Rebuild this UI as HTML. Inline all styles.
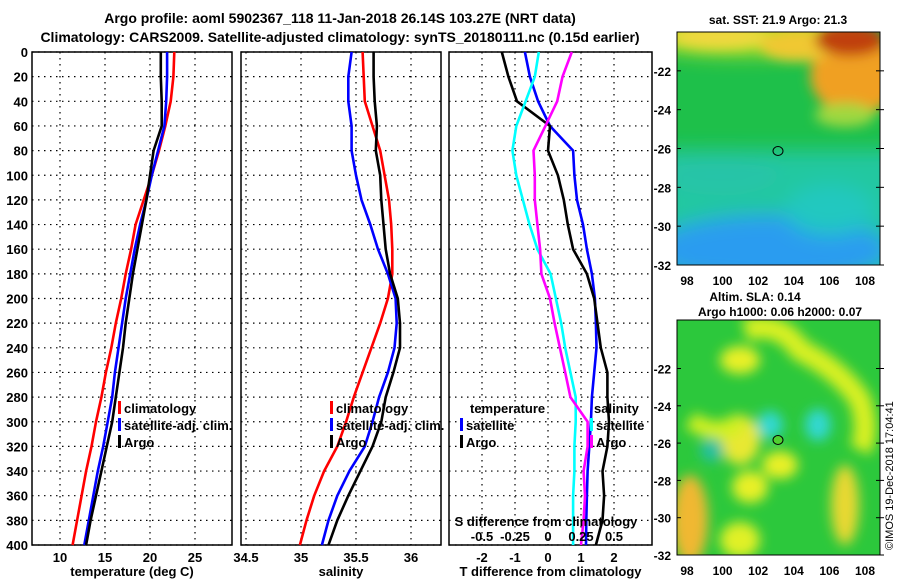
<!DOCTYPE html>
<html><head><meta charset="utf-8"><style>
body{margin:0;background:#fff;}
svg{display:block;font-family:"Liberation Sans",sans-serif;font-weight:bold;}
</style></head><body>
<svg id="chart" width="900" height="580" viewBox="0 0 900 580">
<defs>
<filter id="blur6" filterUnits="userSpaceOnUse" x="600" y="0" width="300" height="580"><feGaussianBlur stdDeviation="6"/></filter>
<filter id="blur10" filterUnits="userSpaceOnUse" x="600" y="0" width="300" height="580"><feGaussianBlur stdDeviation="10"/></filter>
<clipPath id="clipTop"><rect x="677" y="32" width="203" height="233"/></clipPath>
<clipPath id="clipBot"><rect x="677" y="320" width="203" height="235"/></clipPath>
</defs>
<text x="340" y="23" text-anchor="middle" font-size="14">Argo profile: aoml 5902367_118 11-Jan-2018 26.14S 103.27E (NRT data)</text>
<text x="340" y="42" text-anchor="middle" font-size="14">Climatology: CARS2009. Satellite-adjusted climatology: synTS_20180111.nc (0.15d earlier)</text>

<g id="p1"></g>
<g id="p2"></g>
<g id="p3"></g>

<text x="778" y="24" text-anchor="middle" font-size="12">sat. SST: 21.9 Argo: 21.3</text>
<g clip-path="url(#clipTop)">
<rect x="677" y="32" width="203" height="233" fill="#1ec04a"/>
<g filter="url(#blur10)">
<rect x="660" y="150" width="240" height="130" fill="#22c8a0"/>
<ellipse cx="770" cy="250" rx="120" ry="35" fill="#2a9cf0"/>
<ellipse cx="720" cy="175" rx="60" ry="20" fill="#28c4a8"/>
<ellipse cx="740" cy="30" rx="120" ry="25" fill="#b8e020"/>
<ellipse cx="830" cy="210" rx="45" ry="25" fill="#22c8c0"/>
</g>
<g filter="url(#blur6)">
<ellipse cx="720" cy="37" rx="50" ry="12" fill="#f0d840"/>
<ellipse cx="855" cy="75" rx="45" ry="40" fill="#f0a020"/>
<ellipse cx="800" cy="45" rx="40" ry="16" fill="#f0c830"/>
<ellipse cx="850" cy="40" rx="35" ry="16" fill="#c04010"/>
<ellipse cx="845" cy="115" rx="30" ry="12" fill="#a0d840"/>
</g>
</g>
<rect x="677" y="32" width="203" height="233" fill="none" stroke="#000"/>
<ellipse cx="778" cy="151" rx="5" ry="4.5" fill="none" stroke="#000"/>
<g id="m1" font-size="12"></g>

<text x="755" y="301" text-anchor="middle" font-size="12">Altim. SLA: 0.14</text>
<text x="780" y="316" text-anchor="middle" font-size="12">Argo h1000: 0.06 h2000: 0.07</text>
<g clip-path="url(#clipBot)">
<rect x="677" y="320" width="203" height="235" fill="#2cc83c"/>
<g filter="url(#blur6)">
<path d="M745 330 Q780 320 800 350 Q840 370 860 400 Q870 430 860 450" stroke="#d8f020" stroke-width="22" fill="none"/>
<ellipse cx="740" cy="360" rx="20" ry="14" fill="#e8f028"/>
<ellipse cx="740" cy="440" rx="20" ry="25" fill="#e8e830"/>
<path d="M690 420 Q720 440 740 420" stroke="#d0f020" stroke-width="18" fill="none"/>
<ellipse cx="780" cy="465" rx="18" ry="14" fill="#e8f028"/>
<ellipse cx="750" cy="487" rx="18" ry="16" fill="#e8f028"/>
<ellipse cx="690" cy="520" rx="18" ry="45" fill="#f0b830"/>
<ellipse cx="845" cy="505" rx="14" ry="40" fill="#e8d830"/>
<ellipse cx="740" cy="540" rx="20" ry="18" fill="#e0f028"/>
<ellipse cx="770" cy="425" rx="13" ry="14" fill="#30d8d0"/>
<ellipse cx="818" cy="425" rx="13" ry="16" fill="#30d8d0"/>
<ellipse cx="712" cy="450" rx="12" ry="12" fill="#28c0a0"/>
</g>
</g>
<rect x="677" y="320" width="203" height="235" fill="none" stroke="#000"/>
<ellipse cx="778" cy="440" rx="5" ry="4.5" fill="#50d030" stroke="#000"/>
<g id="m2" font-size="12"></g>
<text x="0" y="0" transform="translate(893,550) rotate(-90)" font-size="11" font-weight="normal">©IMOS 19-Dec-2018 17:04:41</text>
</svg>
<script>
const depths=[0,20,40,60,80,100,120,140,160,180,200,220,240,260,280,300,320,340,360,380,400];
const tempClim=[22.7,22.6,22.3,21.7,21.0,20.2,19.3,18.4,17.9,17.3,16.8,16.2,15.7,15.1,14.6,14.0,13.5,12.9,12.4,11.9,11.4];
const tempSat=[21.9,21.9,21.8,21.6,20.9,20.2,19.6,18.9,18.3,17.8,17.3,16.9,16.5,16.1,15.8,15.3,14.8,14.2,13.7,13.2,12.7];
const tempArgo=[21.2,21.2,21.3,21.3,20.4,20.0,19.6,19.1,18.6,18.1,17.7,17.3,17.0,16.6,16.2,15.8,15.2,14.6,14.0,13.4,12.9];
const salClim=[35.56,35.57,35.58,35.65,35.72,35.76,35.80,35.82,35.83,35.83,35.79,35.72,35.64,35.56,35.48,35.41,35.33,35.21,35.12,35.05,34.99];
const salSat=[35.46,35.43,35.43,35.46,35.46,35.50,35.55,35.63,35.70,35.79,35.86,35.87,35.85,35.79,35.71,35.65,35.58,35.44,35.33,35.25,35.19];
const salArgo=[35.66,35.66,35.67,35.69,35.68,35.72,35.73,35.75,35.77,35.81,35.88,35.90,35.90,35.84,35.77,35.73,35.65,35.54,35.43,35.33,35.25];
const tDiffSat=[-0.7,-0.55,-0.3,0.06,0.76,0.8,0.88,1.06,1.18,1.33,1.42,1.45,1.47,1.4,1.33,1.3,1.25,1.2,1.18,1.16,1.15];
const tDiffArgo=[-1.4,-1.2,-0.94,0.06,0.0,0.3,0.48,0.6,0.76,1.18,1.4,1.5,1.6,1.8,1.8,1.85,1.8,1.65,1.7,1.65,1.45];
const sDiffSat=[-0.07,-0.1,-0.17,-0.24,-0.27,-0.24,-0.19,-0.14,-0.08,0.02,0.06,0.1,0.13,0.17,0.21,0.21,0.2,0.2,0.19,0.19,0.19];
const sDiffArgo=[0.18,0.11,0.07,-0.02,-0.11,-0.1,-0.1,-0.08,-0.06,-0.05,0.015,0.05,0.09,0.13,0.17,0.3,0.3,0.27,0.28,0.27,0.25];
const depthTicks=[0,20,40,60,80,100,120,140,160,180,200,220,240,260,280,300,320,340,360,380,400];
const tempTicks=[10,15,20,25];
const salTicks=[34.5,35,35.5,36];
const tDiffTicks=[-2,-1,0,1,2];
const sDiffTickLabels=["-0.5","-0.25","0","0.25","0.5"];
const sstLon=[98,100,102,104,106,108], sstLat=[-22,-24,-26,-28,-30,-32];

const NS='http://www.w3.org/2000/svg';
const Y0=52,Y1=545;
const yD=d=>Y0+(d/400)*(Y1-Y0);
function mk(tag,attrs,parent,txt){const e=document.createElementNS(NS,tag);for(const k in attrs)e.setAttribute(k,attrs[k]);if(txt!==undefined)e.textContent=txt;parent.appendChild(e);return e;}

function panel(g,x0,x1,xs,ticks,labels,xlabel,showDepth){
  for(const d of depthTicks){
    const l=mk('line',{x1:x0,x2:x1,y1:yD(d),y2:yD(d),stroke:'#000','stroke-dasharray':'1.5,4.5','stroke-width':1.2},g);
    
    
    if(showDepth){const t=mk('text',{x:x0-4,y:yD(d)+5,'text-anchor':'end','font-size':13},g,String(d));
      
      }
  }
  ticks.forEach((v,i)=>{
    const x=xs(v);
    const l=mk('line',{x1:x,x2:x,y1:Y0,y2:Y1,stroke:'#000','stroke-dasharray':'1.5,4.5','stroke-width':1.2},g);
    
    
    const t=mk('text',{x:x,y:Y1+17,'text-anchor':'middle','font-size':13},g,labels[i]);
    
    
  });
  const r=mk('rect',{x:x0,y:Y0,width:x1-x0,height:Y1-Y0,fill:'none',stroke:'#000','stroke-width':1.5},g);
  
  
  const xl=mk('text',{x:(x0+x1)/2,y:576,'text-anchor':'middle','font-size':13},g,xlabel);
  
  
}
function series(g,vals,xs,color,name){
  const pts=vals.map((v,i)=>xs(v).toFixed(1)+','+yD(depths[i]).toFixed(1)).join(' ');
  const p=mk('polyline',{points:pts,fill:'none',stroke:color,'stroke-width':2.6,'stroke-linejoin':'round'},g);
  
  
}
function legend(g,x,y,items){
  items.forEach((it,i)=>{
    const yy=y+i*17;
    const m=mk('rect',{x:x,y:yy-12,width:3,height:13,fill:it[1]},g);
    
    
    const t=mk('text',{x:x+6,y:yy,'font-size':13},g,it[0]);
    
    
  });
}
const g1=document.getElementById('p1');
const xT=v=>60+(v-10)*9;
panel(g1,32,232,xT,tempTicks,tempTicks.map(String),'temperature (deg C)',true);
series(g1,tempClim,xT,'#f00','temp-climatology-line');
series(g1,tempSat,xT,'#00f','temp-satellite-line');
series(g1,tempArgo,xT,'#000','temp-argo-line');
legend(g1,118,413,[['climatology','#f00'],['satellite-adj. clim.','#00f'],['Argo','#000']]);
const g2=document.getElementById('p2');
const xS=v=>301+(v-35)*110;
panel(g2,241,441,xS,salTicks,salTicks.map(String),'salinity',false);
series(g2,salClim,xS,'#f00','sal-climatology-line');
series(g2,salSat,xS,'#00f','sal-satellite-line');
series(g2,salArgo,xS,'#000','sal-argo-line');
legend(g2,330,413,[['climatology','#f00'],['satellite-adj. clim.','#00f'],['Argo','#000']]);
const g3=document.getElementById('p3');
const xD=v=>548+v*33;
const xSD=v=>548+v*132;
panel(g3,449,652,xD,tDiffTicks,tDiffTicks.map(String),'T difference from climatology',false);
series(g3,tDiffSat,xD,'#00f','tdiff-satellite-line');
series(g3,tDiffArgo,xD,'#000','tdiff-argo-line');
series(g3,sDiffSat,xSD,'#0ff','sdiff-satellite-line');
series(g3,sDiffArgo,xSD,'#f0f','sdiff-argo-line');
let t=mk('text',{x:470,y:413,'font-size':13},g3,'temperature');


legend(g3,460,430,[['satellite','#00f'],['Argo','#000']]);
t=mk('text',{x:594,y:413,'font-size':13},g3,'salinity');


legend(g3,590,430,[['satellite','#0ff'],['Argo','#f0f']]);
t=mk('text',{x:546,y:526,'text-anchor':'middle','font-size':13},g3,'S difference from climatology');


[-0.5,-0.25,0,0.25,0.5].forEach((v,i)=>{
  const tl=mk('text',{x:xSD(v),y:541,'text-anchor':'middle','font-size':13},g3,sDiffTickLabels[i]);
  
  
});
function mapAxes(gid,top,bot,latTop){
  const g=document.getElementById(gid);
  const px=(bot-top)/(latTop+32);
  sstLat.forEach(l=>{
    const yy=top+(latTop-l)*px;
    const a=mk('text',{x:671,y:yy+5,'text-anchor':'end'},g,String(l));
    
    
    mk('line',{x1:677,x2:681,y1:yy,y2:yy,stroke:'#000'},g);
    mk('line',{x1:876,x2:884,y1:yy,y2:yy,stroke:'#000'},g);
  });
  sstLon.forEach(l=>{
    const x=687+(l-98)*17.8;
    const a=mk('text',{x:x,y:bot+20,'text-anchor':'middle'},g,String(l));
    
    
  });
}
mapAxes('m1',32,265,-20);
mapAxes('m2',320,555,-19.4);
</script>
</body></html>
